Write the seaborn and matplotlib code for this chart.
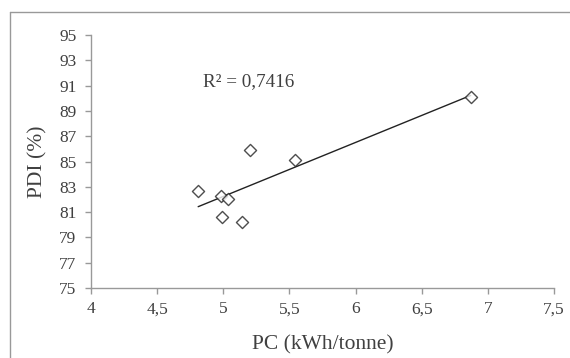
import matplotlib
matplotlib.use("Agg")
import matplotlib.pyplot as plt
import seaborn as sns
import pandas as pd
from matplotlib.lines import Line2D

pc = [4.81, 4.98, 5.035, 4.99, 5.145, 5.20, 5.545, 6.87]
pdi = [82.7, 82.3, 82.0, 80.6, 80.2, 85.9, 85.1, 90.1]
xticks = [4, 4.5, 5, 5.5, 6, 6.5, 7, 7.5]
xticklabels = ["4", "4,5", "5", "5,5", "6", "6,5", "7", "7,5"]
yticks = [75, 77, 79, 81, 83, 85, 87, 89, 91, 93, 95]
r2_text = "R² = 0,7416"

df = pd.DataFrame({"PC": pc, "PDI": pdi})

sns.set_theme(style="white")
plt.rcParams["font.family"] = ["Liberation Serif", "DejaVu Serif"]

fig = plt.figure(figsize=(5.7, 3.58), dpi=100)
top_y = 1 - 11.5/358
left_x = 10.5/570
fig.lines.append(Line2D([left_x, 1.0], [top_y, top_y], transform=fig.transFigure,
                        color="#999999", linewidth=1.0))
fig.lines.append(Line2D([left_x, left_x], [0.0, top_y], transform=fig.transFigure,
                        color="#999999", linewidth=1.0))
ax = fig.add_axes([91/570, 1 - 288/358, (554-91)/570, (288-35)/358])

sns.regplot(data=df, x="PC", y="PDI", ax=ax, ci=None, truncate=True,
            marker="D",
            scatter_kws=dict(s=38, facecolors="white", edgecolors="#222222", linewidths=1.0, zorder=3),
            line_kws=dict(color="#222222", linewidth=1.0))

ax.set_xlim(4, 7.5)
ax.set_ylim(75, 95)
ax.set_xticks(xticks)
ax.set_xticklabels(xticklabels)
ax.set_yticks(yticks)
for s in ["top", "right"]:
    ax.spines[s].set_visible(False)
for s in ["left", "bottom"]:
    ax.spines[s].set_color("#999999")
    ax.spines[s].set_linewidth(1.0)
ax.tick_params(axis="both", direction="out", length=4.5, width=1.0, color="#999999",
               labelsize=12.5, labelcolor="#404040")
ax.tick_params(axis="x", bottom=True, pad=5)
ax.tick_params(axis="y", left=True, pad=6)

ax.set_xlabel("PC (kWh/tonne)", fontsize=15.5, color="#404040", labelpad=13)
ax.set_ylabel("PDI (%)", fontsize=15.5, color="#404040", labelpad=8)
ax.text(4.85, 91.3, r2_text, fontsize=13.8, color="#404040", ha="left", va="center")

fig.savefig("out.png", dpi=100)
